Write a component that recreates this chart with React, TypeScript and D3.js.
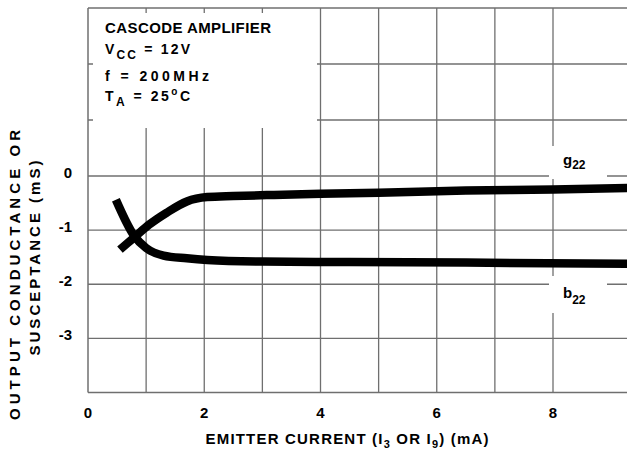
import React from 'react';
import * as d3 from 'd3';

// Axis ticks
const xTickValues = [0, 2, 4, 6, 8];
const yTickValues = [0, -1, -2, -3];
const xGridValues = [1, 2, 3, 4, 5, 6, 7, 8];
const yGridValues = [3, 2, 1, 0, -1, -2, -3];

// g22 curve: emitter current (mA) vs output conductance (mS)
const g22Current = [0.55, 0.8, 1.05, 1.35, 1.7, 2.05, 2.5, 3.2, 4.0, 5.0, 6.5, 8.0, 9.3];
const g22Value = [-1.36, -1.13, -0.9, -0.68, -0.47, -0.39, -0.37, -0.35, -0.33, -0.31, -0.27, -0.25, -0.22];

// b22 curve: emitter current (mA) vs output susceptance (mS)
const b22Current = [0.48, 0.79, 1.0, 1.3, 1.7, 2.05, 3.0, 4.5, 6.5, 9.3];
const b22Value = [-0.44, -1.1, -1.33, -1.47, -1.52, -1.55, -1.58, -1.59, -1.6, -1.62];

const FONT = '"Liberation Sans", Arial, Helvetica, sans-serif';

export default function App() {
  const W = 627;
  const H = 452;
  const x = d3.scaleLinear().domain([0, 8]).range([88, 553]);
  const y = d3.scaleLinear().domain([-4, 0, 3]).range([392.5, 176, 8]);
  const xMax = x.invert(W);
  const top = y(3);
  const bottom = y(-4);
  const left = x(0);

  const line = d3
    .line<[number, number]>()
    .x((d) => x(d[0]))
    .y((d) => y(d[1]))
    .curve(d3.curveMonotoneX);

  const g22 = g22Current.map((c, i) => [c, g22Value[i]] as [number, number]);
  const b22 = b22Current.map((c, i) => [c, b22Value[i]] as [number, number]);

  const gridColor = '#6f6f6f';

  return (
    <svg
      width={W}
      height={H}
      style={{ position: 'absolute', left: 0, top: 0, background: '#fff' }}
      fontFamily={FONT}
      fontWeight="bold"
    >
      <rect x={0} y={0} width={W} height={H} fill="#fff" />
      {/* grid */}
      {xGridValues.map((v) => (
        <line key={'gx' + v} x1={x(v)} x2={x(v)} y1={top} y2={bottom} stroke={gridColor} strokeWidth={1.3} />
      ))}
      {yGridValues.map((v) => (
        <line key={'gy' + v} x1={left} x2={x(xMax)} y1={y(v)} y2={y(v)} stroke={gridColor} strokeWidth={1.3} />
      ))}
      {/* frame */}
      <line x1={left} x2={left} y1={top} y2={bottom} stroke={gridColor} strokeWidth={1.5} />
      <line x1={left} x2={x(xMax)} y1={bottom} y2={bottom} stroke={gridColor} strokeWidth={1.5} />

      {/* white boxes */}
      <rect x={93} y={13} width={224} height={115} fill="#fff" />
      <rect x={549} y={146} width={58} height={33} fill="#fff" />
      <rect x={549} y={276} width={58} height={37} fill="#fff" />

      {/* legend text */}
      <text x={105} y={33} fontSize={15} textLength={166} lengthAdjust="spacing">
        CASCODE AMPLIFIER
      </text>
      <text x={105} y={54} fontSize={14} textLength={85} lengthAdjust="spacing">
        V<tspan dy={5} fontSize={12}>CC</tspan>
        <tspan dy={-5}> = 12V</tspan>
      </text>
      <text x={105} y={81} fontSize={14} textLength={104} lengthAdjust="spacing">
        f = 200MHz
      </text>
      <text x={105} y={101} fontSize={14} textLength={85} lengthAdjust="spacing">
        T<tspan dy={5} fontSize={12}>A</tspan>
        <tspan dy={-5}> = 25</tspan>
        <tspan dy={-6} fontSize={10}>o</tspan>
        <tspan dy={6}>C</tspan>
      </text>

      {/* curves */}
      <path d={line(g22) || ''} fill="none" stroke="#000" strokeWidth={8.5} strokeLinecap="butt" strokeLinejoin="round" />
      <path d={line(b22) || ''} fill="none" stroke="#000" strokeWidth={8.5} strokeLinecap="butt" strokeLinejoin="round" />

      {/* curve labels */}
      <text x={563} y={165} fontSize={15}>
        g<tspan dy={4} fontSize={12}>22</tspan>
      </text>
      <text x={563} y={298} fontSize={15}>
        b<tspan dy={6} fontSize={12}>22</tspan>
      </text>

      {/* x ticks */}
      {xTickValues.map((v) => (
        <text key={'xt' + v} x={x(v)} y={418} fontSize={15} textAnchor="middle">
          {v}
        </text>
      ))}
      {/* y ticks */}
      {yTickValues.map((v) => (
        <text key={'yt' + v} x={72} y={y(v) + 2} fontSize={15} textAnchor="end">
          {v}
        </text>
      ))}

      {/* x title */}
      <text x={347} y={444} fontSize={15} textAnchor="middle" textLength={283} lengthAdjust="spacing">
        EMITTER CURRENT (I<tspan dy={4} fontSize={11}>3</tspan>
        <tspan dy={-4}> OR I</tspan>
        <tspan dy={4} fontSize={11}>9</tspan>
        <tspan dy={-4}>) (mA)</tspan>
      </text>

      {/* y title */}
      <text
        transform="translate(20,275) rotate(-90)"
        fontSize={15}
        textAnchor="middle"
        textLength={290}
        lengthAdjust="spacing"
      >
        OUTPUT CONDUCTANCE OR
      </text>
      <text
        transform="translate(40,258) rotate(-90)"
        fontSize={15}
        textAnchor="middle"
        textLength={195}
        lengthAdjust="spacing"
      >
        SUSCEPTANCE (mS)
      </text>
    </svg>
  );
}
